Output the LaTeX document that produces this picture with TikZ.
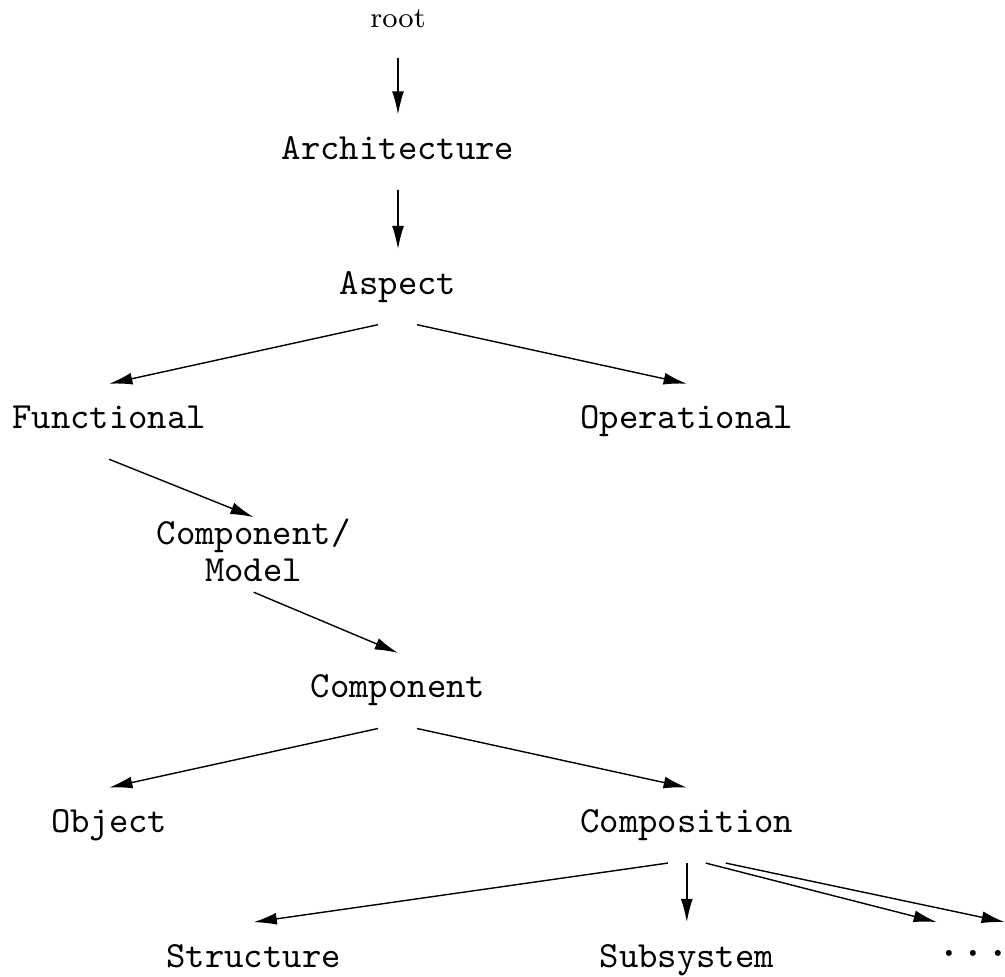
\RequirePackage{fix-cm}
\documentclass[tikz,border=0pt]{standalone}
\usetikzlibrary{arrows.meta}
\begin{document}
\begin{tikzpicture}[word/.style = {font=\fontsize{10.5}{10.5}\selectfont\ttfamily, outer sep=0pt, inner xsep=2pt},
		lbl/.style = {word, text height=6.4pt, text depth=2.3pt, inner ysep=6.4pt},
		arr/.style = {-{Latex[length=6.6pt,width=3.4pt]}}, node distance=1.346cm]
		\useasboundingbox (0,0) rectangle (10.05,-9.76);
		\node[lbl, font=\fontsize{8.2}{9}\selectfont\rmfamily] (root) at (3.98,-0.198) {root};
		\node[lbl] (arch) [below of=root, node distance=1.325cm] {Architecture};
		\node[lbl] (asp) [below of=arch] {Aspect};
		\node[lbl] (fun) [below of=asp, xshift=-2.888cm] {Functional};
		\node[lbl] (op) [below of=asp, xshift=2.888cm] {Operational};
		\node[word, align=center, inner ysep=0.4pt] (cm) [below of=fun, node distance=1.284cm, xshift=1.444cm] {Component/\\Model};
		\node[lbl] (comp) [below of=asp, node distance=4.038cm] {Component};
		\node[lbl] (obj) [below of=comp, xshift=-2.888cm] {Object};
		\node[lbl] (cpn) [below of=comp, xshift=2.888cm] {Composition};
		\node[lbl] (str) [below of=cpn, xshift=-4.332cm] {Structure};
		\node[lbl] (sub) [below of=cpn] {Subsystem};
		\node[lbl, font=\fontsize{16}{18}\selectfont] (dots) [below of=cpn, xshift=2.87cm] {$\cdots$};
		\draw[arr] (root) -- (arch);
		\draw[arr] (arch) -- (asp);
		\draw[arr] ([xshift=-0.2cm]asp.south) -- (fun.north);
		\draw[arr] ([xshift=0.19cm]asp.south) -- (op.north);
		\draw[arr] (fun.south) -- (cm.north);
		\draw[arr] ([yshift=-2.7pt]cm.south) -- (comp.north);
		\draw[arr] ([xshift=-0.2cm]comp.south) -- (obj.north);
		\draw[arr] ([xshift=0.19cm]comp.south) -- (cpn.north);
		\draw[arr] ([xshift=-0.19cm]cpn.south) -- (str.north);
		\draw[arr] (cpn) -- (sub);
		\draw[arr] ([xshift=0.19cm]cpn.south) -- ([xshift=-0.37cm]dots.north);
		\draw[arr] ([xshift=0.39cm]cpn.south) -- ([xshift=0.31cm]dots.north);
	\end{tikzpicture}
\end{document}
